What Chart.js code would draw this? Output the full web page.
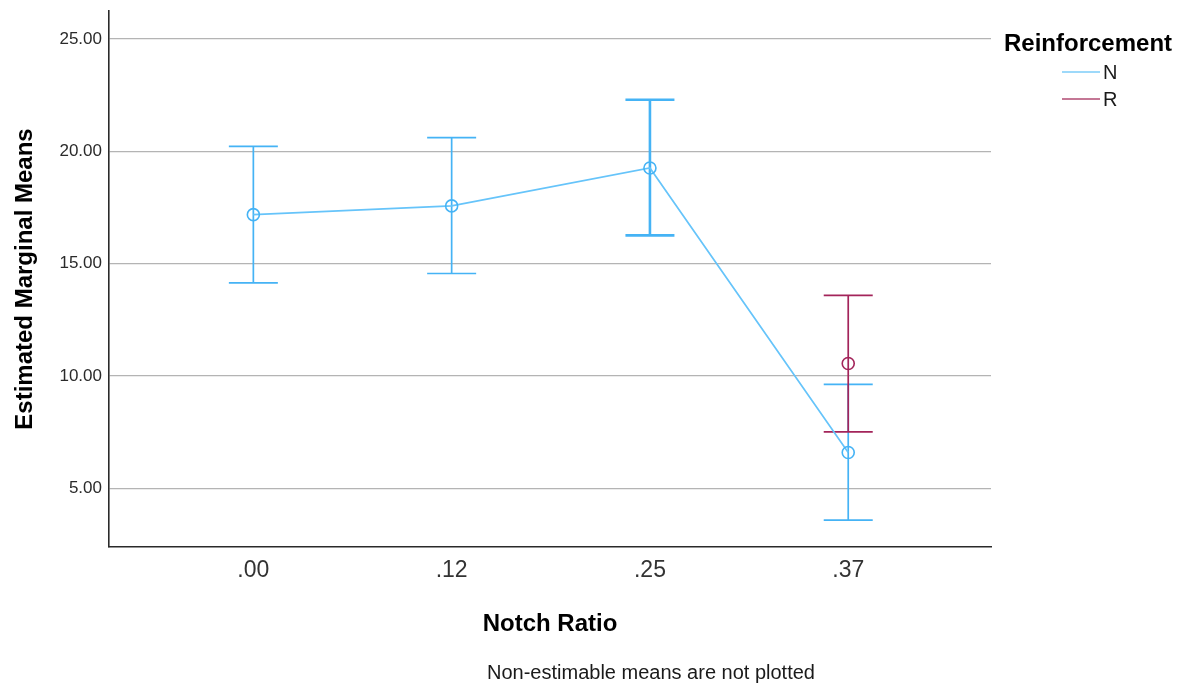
<!DOCTYPE html>
<html>
<head>
<meta charset="utf-8">
<script src="https://cdn.jsdelivr.net/npm/chart.js@4/dist/chart.umd.min.js"></script>
<style>
  html, body { margin: 0; padding: 0; background: #ffffff; }
  #wrap { width: 1192px; height: 690px; position: relative; }
</style>
</head>
<body>
<div id="wrap"><canvas id="c" width="1192" height="690"></canvas></div>
<script>
// Notch ratio categories and the estimated marginal means per reinforcement group
const categories = ['.00', '.12', '.25', '.37'];
const yTicks = [5, 10, 15, 20, 25];

const meanN  = [17.18, 17.57, 19.26, 6.59];
const lowerN = [14.14, 14.56, 16.26, 3.58];
const upperN = [20.22, 20.61, 22.30, 9.62];

const meanR  = [null, null, null, 10.55];
const lowerR = [null, null, null, 7.51];
const upperR = [null, null, null, 13.59];

// stroke widths of the interval bars, per category
const barStroke = [1.7, 1.7, 2.6, 1.7];

const COLOR_N = '#45b3f5';
const COLOR_N_LINE = '#66c4fa';
const COLOR_R = '#a3245a';
const FONT = "'Liberation Sans', Arial, sans-serif";

function toPoints(values) {
  return values.map((v, i) => ({ x: i, y: v }));
}

// Vertical interval bars with caps, drawn through the chart's scales
const errorBars = {
  id: 'errorBars',
  beforeDatasetsDraw(chart) {
    const { ctx, scales: { x, y } } = chart;
    const groups = [
      { lo: lowerN, hi: upperN, color: COLOR_N },
      { lo: lowerR, hi: upperR, color: COLOR_R }
    ];
    const cap = 24.5;
    ctx.save();
    groups.forEach(g => {
      ctx.strokeStyle = g.color;
      g.lo.forEach((lo, i) => {
        const hi = g.hi[i];
        if (lo == null || hi == null) return;
        ctx.lineWidth = barStroke[i];
        const px = x.getPixelForValue(i);
        const pLo = y.getPixelForValue(lo);
        const pHi = y.getPixelForValue(hi);
        ctx.beginPath();
        ctx.moveTo(px, pLo); ctx.lineTo(px, pHi);
        ctx.moveTo(px - cap, pLo); ctx.lineTo(px + cap, pLo);
        ctx.moveTo(px - cap, pHi); ctx.lineTo(px + cap, pHi);
        ctx.stroke();
      });
    });
    ctx.restore();
  }
};

// Axis titles, legend and footnote
const annotations = {
  id: 'annotations',
  afterDraw(chart) {
    const { ctx } = chart;
    ctx.save();
    ctx.fillStyle = '#000000';
    ctx.textBaseline = 'middle';

    ctx.font = 'bold 24px ' + FONT;
    ctx.textAlign = 'center';
    ctx.fillText('Notch Ratio', 550, 624);

    ctx.save();
    ctx.translate(25, 279);
    ctx.rotate(-Math.PI / 2);
    ctx.fillText('Estimated Marginal Means', 0, 0);
    ctx.restore();

    ctx.font = '20px ' + FONT;
    ctx.fillStyle = '#1a1a1a';
    ctx.fillText('Non-estimable means are not plotted', 651, 673);

    // Legend
    ctx.textAlign = 'left';
    ctx.fillStyle = '#000000';
    ctx.font = 'bold 24px ' + FONT;
    ctx.fillText('Reinforcement', 1004, 44);
    const items = chart.data.datasets;
    ctx.font = '20px ' + FONT;
    items.forEach((ds, k) => {
      const yy = 72 + k * 27;
      ctx.strokeStyle = ds.legendColor;
      ctx.lineWidth = 1.5;
      ctx.beginPath();
      ctx.moveTo(1062, yy); ctx.lineTo(1100, yy);
      ctx.stroke();
      ctx.fillStyle = '#1a1a1a';
      ctx.fillText(ds.label, 1103, yy + 1);
    });
    ctx.restore();
  }
};

new Chart(document.getElementById('c'), {
  type: 'line',
  data: {
    datasets: [
      {
        label: 'N',
        data: toPoints(meanN),
        borderColor: COLOR_N_LINE,
        legendColor: '#7cccf8',
        borderWidth: 1.7,
        pointRadius: 6,
        pointBorderWidth: 1.6,
        pointBorderColor: COLOR_N,
        pointBackgroundColor: 'rgba(0,0,0,0)',
        tension: 0
      },
      {
        label: 'R',
        data: toPoints(meanR),
        borderColor: COLOR_R,
        legendColor: '#b04a72',
        borderWidth: 1.7,
        pointRadius: 6,
        pointBorderWidth: 1.6,
        pointBorderColor: COLOR_R,
        pointBackgroundColor: 'rgba(0,0,0,0)',
        tension: 0
      }
    ]
  },
  options: {
    responsive: false,
    animation: false,
    devicePixelRatio: 1,
    layout: { padding: { top: 11, right: 201, left: 0, bottom: 0 } },
    plugins: {
      legend: { display: false },
      tooltip: { enabled: false }
    },
    scales: {
      x: {
        type: 'linear',
        min: -0.728,
        max: 3.72,
        afterBuildTicks(scale) {
          scale.ticks = categories.map((_, i) => ({ value: i }));
        },
        afterFit(scale) {
          scale.height = 143;
          scale.paddingLeft = 0;
          scale.paddingRight = 0;
        },
        grid: { display: false, drawTicks: false },
        border: { display: true, color: '#2a2a2a', width: 1.6 },
        ticks: {
          padding: 10,
          color: '#333333',
          font: { family: FONT, size: 23 },
          callback: (v) => categories[v] ?? ''
        }
      },
      y: {
        type: 'linear',
        min: 2.38,
        max: 26.25,
        afterBuildTicks(scale) {
          scale.ticks = yTicks.map(v => ({ value: v }));
        },
        afterFit(scale) {
          scale.width = 109;
          scale.paddingTop = 0;
          scale.paddingBottom = 0;
        },
        grid: { color: '#b4b4b4', lineWidth: 1.3, drawTicks: false },
        border: { display: true, color: '#2a2a2a', width: 1.6 },
        ticks: {
          padding: 7,
          color: '#2a2a2a',
          font: { family: FONT, size: 17 },
          callback: (v) => v.toFixed(2)
        }
      }
    }
  },
  plugins: [errorBars, annotations]
});
</script>
</body>
</html>
